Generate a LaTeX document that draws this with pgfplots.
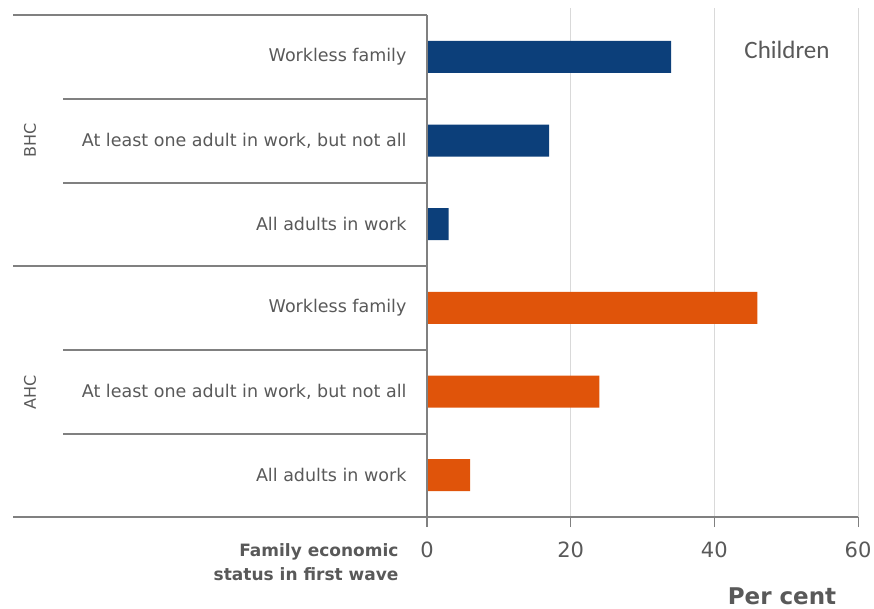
\documentclass[border=0pt]{standalone}
\usepackage{pgfplots}
\pgfplotsset{compat=1.18}
\usepackage{fontspec}
\setmainfont{DejaVu Sans}
\newfontfamily\carlito{Carlito}
\definecolor{bblue}{RGB}{12,63,122}
\definecolor{borange}{RGB}{224,84,10}
\definecolor{txt}{RGB}{89,89,89}
\definecolor{axl}{RGB}{128,128,128}
\definecolor{grd}{RGB}{217,217,217}
\begin{document}
\begin{tikzpicture}[x=1pt,y=1pt]
\useasboundingbox (0,0) rectangle (874,608);
\begin{axis}[
  at={(427pt,91pt)}, anchor=south west,
  scale only axis, width=431pt, height=502pt,
  xmin=0, xmax=60, ymin=-0.5, ymax=5.5,
  xtick={0,20,40,60},
  ytick={0,1,2,3,4,5},
  yticklabels={All adults in work, {At least one adult in work, but not all}, Workless family, All adults in work, {At least one adult in work, but not all}, Workless family},
  axis line style={draw=none},
  xmajorgrids, grid style={grd, line width=1pt},
  tick align=outside,
  xtick pos=bottom, ytick pos=left,
  xtick style={axl, line width=1pt},
  major tick length=10pt,
  y tick style={draw=none},
  /pgf/number format/assume math mode=true,
  xticklabel style={font=\fontsize{21}{24}\selectfont, text=txt, yshift=-11pt},
  yticklabel style={font=\fontsize{17.5}{20}\selectfont, text=txt, anchor=east, xshift=-7pt},
  clip=false,
]
\addplot[xbar, bar shift=0pt, bar width=32pt, fill=bblue, draw=none] coordinates {(34,5) (17,4) (3,3)};
\addplot[xbar, bar shift=0pt, bar width=32pt, fill=borange, draw=none] coordinates {(46,2) (24,1) (6,0)};
\end{axis}
% grid extensions above plot top
\begin{scope}[grd, line width=1pt]
\draw (570.67,593) -- (570.67,600);
\draw (714.33,593) -- (714.33,600);
\draw (858,593) -- (858,600);
\end{scope}
% frame / separator lines
\begin{scope}[axl, line width=1.2pt]
\draw (13,593) -- (427,593);
\draw (63,509) -- (427,509);
\draw (63,425) -- (427,425);
\draw (13,342) -- (427,342);
\draw (63,258) -- (427,258);
\draw (63,174) -- (427,174);
\draw (13,91) -- (858,91);
\draw (427,81) -- (427,593);
\end{scope}
\node[rotate=90, text=txt, font=\fontsize{16}{18}\selectfont] at (30,468) {BHC};
\node[rotate=90, text=txt, font=\fontsize{16}{18}\selectfont] at (30,216) {AHC};
\node[text=txt, font=\carlito\fontsize{25}{28}\selectfont] at (787,558) {Children};
\node[text=txt, font=\bfseries\fontsize{23}{26}\selectfont, anchor=base] at (782,4) {Per cent};
\node[text=txt, font=\bfseries\fontsize{17}{24}\selectfont, align=right, anchor=east] at (402,46) {Family economic\\status in first wave};
\end{tikzpicture}
\end{document}
